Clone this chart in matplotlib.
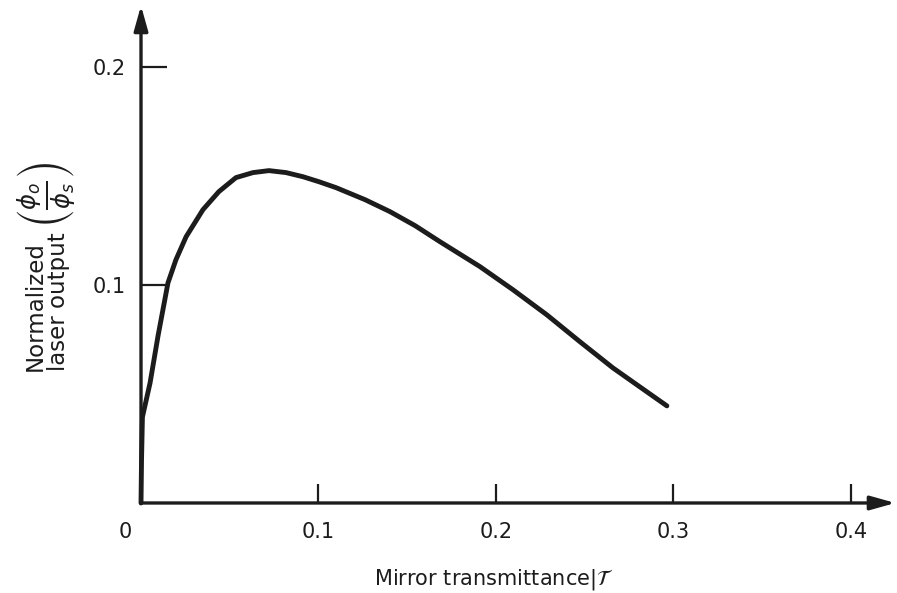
"""
Normalized laser output versus mirror transmittance.
"""

import matplotlib
matplotlib.use("Agg")
import matplotlib.pyplot as plt

# values
transmittance = [0.0, 0.0003, 0.0008, 0.0051, 0.0096, 0.0152, 0.0197, 0.0254,
                 0.0349, 0.0439, 0.0535, 0.0631, 0.0721, 0.0817, 0.0913,
                 0.1003, 0.1099, 0.1262, 0.1403, 0.1544, 0.1685, 0.191,
                 0.2096, 0.2287, 0.2473, 0.2659, 0.2851, 0.2963]
output = [0.0, 0.02, 0.0394, 0.055, 0.0766, 0.1009, 0.1115, 0.122,
          0.1344, 0.1427, 0.1491, 0.1514, 0.1523, 0.1514, 0.1495,
          0.1472, 0.1445, 0.139, 0.1335, 0.1271, 0.1197, 0.1083,
          0.0977, 0.0862, 0.0739, 0.0619, 0.0509, 0.0445]

xticks = [0.1, 0.2, 0.3, 0.4]
xticklabels = ["0.1", "0.2", "0.3", "0.4"]
yticks = [0.1, 0.2]
yticklabels = ["0.1", "0.2"]

INK = "#1c1c1c"

fig = plt.figure(figsize=(8.97, 5.93), dpi=100)
ax = fig.add_axes([0.1572, 0.1518, 0.831, 0.828])
ax.set_xlim(0, 0.42)
ax.set_ylim(0, 0.225)

for side in ("top", "right", "bottom", "left"):
    ax.spines[side].set_visible(False)

# axes drawn as arrows
arrow = dict(arrowstyle="-|>,head_length=1.5,head_width=0.42",
             color=INK, lw=2.4, shrinkA=0, shrinkB=0)
ax.annotate("", xy=(1.012, 0), xytext=(0, 0), xycoords="axes fraction",
            arrowprops=arrow, annotation_clip=False)
ax.annotate("", xy=(0, 1.013), xytext=(0, 0), xycoords="axes fraction",
            arrowprops=arrow, annotation_clip=False)

ax.plot(transmittance, output, color=INK, lw=3.5,
        solid_joinstyle="round", solid_capstyle="round", clip_on=False)

ax.set_xticks(xticks)
ax.set_xticklabels(xticklabels)
ax.set_yticks(yticks)
ax.set_yticklabels(yticklabels)
ax.tick_params(axis="x", direction="in", length=14, width=1.6,
               color=INK, pad=14, labelsize=15, labelcolor=INK)
ax.tick_params(axis="y", direction="in", length=19, width=1.6,
               color=INK, pad=11, labelsize=15, labelcolor=INK)
ax.text(-0.009, -0.0085, "0", ha="center", va="top", fontsize=15, color=INK)

fig.text(0.551, 0.0135, r"Mirror transmittance|$\mathcal{T}$",
         ha="center", va="baseline", fontsize=15, color=INK)
fig.text(0.052, 0.491, "Normalized\nlaser output", rotation=90,
         ha="center", va="center", multialignment="left",
         fontsize=16.5, color=INK, linespacing=1.0)
fig.text(0.052, 0.671, r"$\left(\frac{\phi_o}{\phi_s}\right)$", rotation=90,
         ha="center", va="center", fontsize=25, color=INK)

fig.savefig("out.png", dpi=100)
